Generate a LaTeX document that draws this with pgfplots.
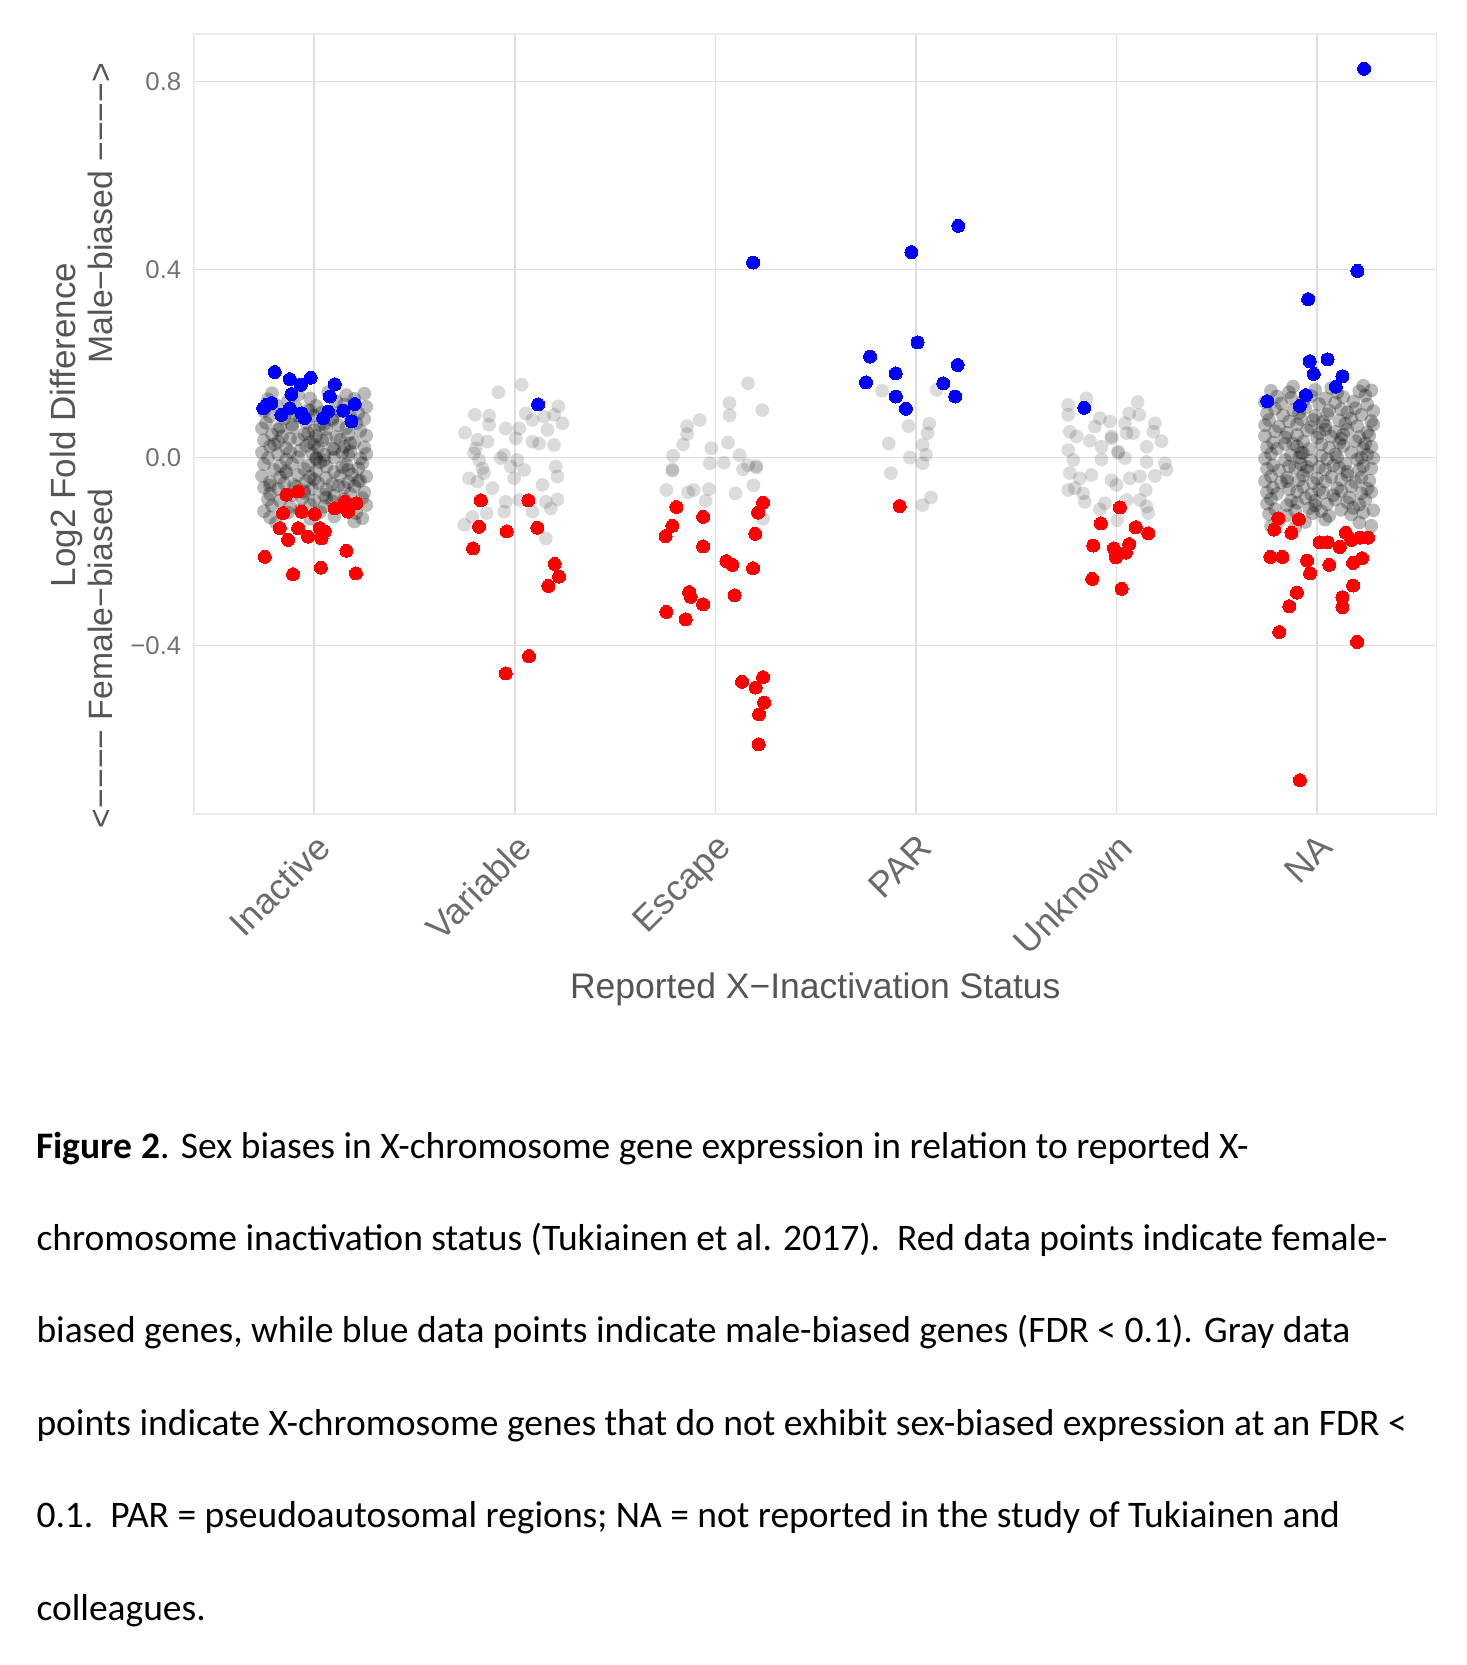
\documentclass[border=0pt]{standalone}
\usepackage{fontspec}
\setmainfont{Carlito}
\newfontfamily\arial{Liberation Sans}
\usepackage{pgfplots}
\pgfplotsset{compat=1.18}
\usepackage{pgfplotstable}
\definecolor{gridc}{HTML}{DEDEDE}
\definecolor{borderc}{HTML}{EBEBEB}
\definecolor{tickc}{HTML}{737373}
\definecolor{xtickc}{HTML}{6B6B6B}
\definecolor{titlec}{HTML}{555555}
\definecolor{mblue}{HTML}{0000FF}
\definecolor{mred}{HTML}{FF0000}

% gray points, sparse categories
\pgfplotstableread[row sep=\\]{
x y\\
2.035 0.155\\ 1.919 0.139\\ 1.801 0.091\\ 1.872 0.089\\ 1.752 0.053\\ 1.872 0.070\\ 1.955 0.062\\ 2.022 0.062\\
2.055 0.094\\ 2.088 0.080\\ 2.146 0.087\\ 2.196 0.091\\ 2.218 0.109\\ 2.238 0.073\\ 2.163 0.059\\ 2.088 0.034\\
2.121 0.030\\ 2.196 0.027\\ 1.814 0.038\\ 1.806 0.020\\ 1.864 0.034\\ 2.005 0.041\\ 1.822 -0.005\\ 1.947 0.006\\
2.013 -0.005\\ 1.980 -0.019\\ 2.047 -0.026\\ 1.839 -0.023\\ 2.204 -0.019\\ 2.213 -0.040\\ 1.772 -0.044\\ 1.814 -0.051\\
1.889 -0.065\\ 1.997 -0.044\\ 2.138 -0.058\\ 1.955 -0.094\\ 2.022 -0.090\\ 2.155 -0.094\\ 2.213 -0.089\\ 2.180 -0.108\\
2.088 -0.115\\ 1.860 -0.118\\ 1.947 -0.115\\ 1.789 -0.126\\ 1.748 -0.143\\ 2.155 -0.172\\ 1.930 -0.001\\ 1.847 -0.033\\
1.797 0.009\\
3.163 0.158\\ 3.071 0.116\\ 3.071 0.090\\ 3.234 0.101\\ 2.922 0.080\\ 2.859 0.067\\ 2.859 0.050\\ 2.839 0.028\\
2.980 0.020\\ 3.063 0.032\\ 2.789 0.004\\ 3.121 0.005\\ 2.786 -0.025\\ 2.972 -0.012\\ 3.042 -0.011\\ 3.138 -0.025\\
3.163 -0.016\\ 3.204 -0.021\\ 3.190 -0.059\\ 2.756 -0.069\\ 2.864 -0.074\\ 2.892 -0.069\\ 2.968 -0.067\\ 3.101 -0.076\\
2.952 -0.092\\ 3.238 -0.130\\ 2.786 -0.028\\ 3.204 -0.018\\
3.831 0.142\\ 4.103 0.144\\ 3.963 0.067\\ 4.066 0.072\\ 4.058 0.052\\ 3.864 0.030\\ 4.033 0.027\\ 4.050 0.006\\
3.970 0.000\\ 4.033 -0.012\\ 3.875 -0.033\\ 4.075 -0.085\\ 4.033 -0.101\\
4.850 0.126\\ 4.759 0.112\\ 4.759 0.091\\ 5.105 0.118\\ 5.063 0.094\\ 5.113 0.091\\ 4.917 0.084\\ 4.967 0.077\\
4.892 0.066\\ 5.042 0.073\\ 5.191 0.073\\ 5.183 0.055\\ 5.224 0.035\\ 4.767 0.055\\ 4.801 0.045\\ 4.867 0.036\\
4.975 0.041\\ 5.050 0.052\\ 5.083 0.052\\ 5.150 0.023\\ 4.759 0.016\\ 4.925 0.023\\ 5.008 0.013\\ 5.042 -0.001\\
4.784 -0.005\\ 4.925 -0.004\\ 5.150 -0.009\\ 5.241 -0.012\\ 5.249 -0.026\\ 5.191 -0.039\\ 5.116 -0.040\\ 5.066 -0.044\\
4.975 -0.048\\ 4.767 -0.033\\ 4.817 -0.044\\ 4.875 -0.037\\ 5.000 -0.058\\ 4.759 -0.069\\ 4.792 -0.065\\ 4.834 -0.076\\
4.842 -0.094\\ 5.146 -0.069\\ 5.050 -0.090\\ 5.116 -0.090\\ 4.942 -0.097\\ 4.917 -0.110\\ 5.150 -0.104\\ 5.158 -0.118\\
5.003 -0.133\\ 4.975 0.045\\ 5.008 0.010\\
}\graysparse

% gray points, dense clouds (Inactive, NA)
\pgfplotstableread[row sep=\\]{
x y\\
0.79 0.137\\ 0.92 0.134\\ 1.07 0.139\\ 1.16 0.133\\ 1.25 0.136\\
0.77 0.124\\ 0.87 0.121\\ 0.98 0.126\\ 1.11 0.120\\ 1.20 0.125\\
0.81 0.112\\ 0.91 0.107\\ 1.01 0.110\\ 1.15 0.113\\ 1.26 0.108\\
0.75 0.099\\ 0.86 0.095\\ 0.97 0.101\\ 1.04 0.096\\ 1.13 0.098\\ 1.22 0.094\\
0.78 0.088\\ 0.85 0.083\\ 0.93 0.086\\ 1.00 0.089\\ 1.09 0.084\\ 1.18 0.087\\ 1.25 0.082\\
0.76 0.074\\ 0.89 0.070\\ 0.96 0.075\\ 1.05 0.071\\ 1.12 0.069\\ 1.21 0.073\\
0.74 0.062\\ 0.82 0.059\\ 0.89 0.064\\ 1.00 0.058\\ 1.06 0.061\\ 1.16 0.063\\ 1.23 0.057\\
0.79 0.049\\ 0.84 0.045\\ 0.95 0.050\\ 1.01 0.046\\ 1.11 0.044\\ 1.17 0.049\\ 1.26 0.047\\
0.75 0.037\\ 0.82 0.034\\ 0.92 0.039\\ 0.98 0.033\\ 1.04 0.036\\ 1.13 0.038\\ 1.20 0.032\\
0.78 0.024\\ 0.86 0.020\\ 0.96 0.025\\ 1.02 0.021\\ 1.09 0.019\\ 1.15 0.023\\ 1.25 0.022\\
0.74 0.011\\ 0.82 0.007\\ 0.88 0.012\\ 0.99 0.008\\ 1.05 0.006\\ 1.14 0.010\\ 1.18 0.013\\ 1.26 0.008\\
0.77 -0.001\\ 0.86 -0.004\\ 0.92 0.001\\ 1.01 -0.003\\ 1.05 -0.005\\ 1.10 0.000\\ 1.23 -0.002\\
0.75 -0.014\\ 0.83 -0.018\\ 0.89 -0.013\\ 0.97 -0.017\\ 1.06 -0.019\\ 1.16 -0.015\\ 1.24 -0.012\\
0.80 -0.026\\ 0.86 -0.029\\ 0.95 -0.024\\ 1.01 -0.028\\ 1.10 -0.030\\ 1.17 -0.026\\ 1.22 -0.023\\
0.74 -0.039\\ 0.83 -0.042\\ 0.92 -0.037\\ 0.98 -0.041\\ 1.06 -0.043\\ 1.13 -0.039\\ 1.19 -0.036\\ 1.26 -0.040\\
0.78 -0.052\\ 0.85 -0.055\\ 0.96 -0.050\\ 1.02 -0.054\\ 1.09 -0.056\\ 1.17 -0.052\\ 1.23 -0.049\\
0.75 -0.064\\ 0.82 -0.067\\ 0.91 -0.062\\ 0.99 -0.066\\ 1.06 -0.068\\ 1.15 -0.064\\ 1.20 -0.061\\
0.78 -0.077\\ 0.89 -0.080\\ 0.95 -0.075\\ 1.05 -0.079\\ 1.10 -0.081\\ 1.18 -0.077\\ 1.25 -0.074\\
0.77 -0.089\\ 0.83 -0.092\\ 0.94 -0.087\\ 1.00 -0.091\\ 1.09 -0.093\\ 1.15 -0.089\\ 1.24 -0.086\\
0.79 -0.102\\ 0.88 -0.105\\ 0.98 -0.100\\ 1.05 -0.104\\ 1.14 -0.106\\ 1.26 -0.101\\
0.75 -0.114\\ 0.87 -0.117\\ 0.93 -0.112\\ 1.03 -0.116\\ 1.21 -0.118\\
0.78 -0.127\\ 0.98 -0.130\\ 1.10 -0.125\\ 1.24 -0.129\\
0.81 -0.139\\ 1.20 -0.136\\
0.83 0.065\\ 0.88 0.040\\ 0.93 0.015\\ 0.97 0.052\\ 1.00 0.028\\ 1.03 -0.010\\ 1.06 0.042\\ 1.10 0.018\\
1.14 -0.020\\ 1.18 0.030\\ 0.86 -0.033\\ 0.90 -0.058\\ 0.95 -0.071\\ 1.00 -0.046\\ 1.06 -0.085\\ 1.12 -0.060\\
1.17 0.005\\ 1.22 -0.050\\ 0.80 0.028\\ 0.78 -0.060\\ 0.91 0.090\\ 0.98 0.100\\ 1.09 0.080\\ 1.15 0.100\\
1.01 0.000\\ 1.03 0.070\\
5.88 0.151\\ 6.07 0.148\\ 6.23 0.153\\
5.77 0.142\\ 5.86 0.139\\ 5.99 0.144\\ 6.10 0.138\\ 6.21 0.141\\ 6.27 0.143\\
5.80 0.130\\ 5.87 0.127\\ 5.97 0.131\\ 6.04 0.126\\ 6.13 0.129\\ 6.24 0.132\\
5.74 0.118\\ 5.82 0.115\\ 5.93 0.120\\ 6.01 0.114\\ 6.09 0.117\\ 6.18 0.119\\ 6.25 0.113\\
5.79 0.104\\ 5.88 0.101\\ 5.94 0.106\\ 6.06 0.100\\ 6.12 0.103\\ 6.19 0.105\\ 6.28 0.099\\
5.75 0.094\\ 5.83 0.090\\ 5.91 0.095\\ 5.99 0.089\\ 6.05 0.092\\ 6.15 0.096\\ 6.22 0.091\\
5.76 0.080\\ 5.86 0.077\\ 5.92 0.082\\ 6.03 0.076\\ 6.11 0.079\\ 6.17 0.083\\ 6.27 0.078\\
5.74 0.069\\ 5.81 0.066\\ 5.90 0.071\\ 5.97 0.065\\ 6.04 0.068\\ 6.14 0.072\\ 6.20 0.067\\ 6.28 0.070\\
5.79 0.056\\ 5.85 0.053\\ 5.95 0.058\\ 6.01 0.052\\ 6.09 0.055\\ 6.15 0.059\\ 6.25 0.054\\
5.74 0.046\\ 5.84 0.043\\ 5.90 0.048\\ 6.00 0.042\\ 6.07 0.045\\ 6.13 0.049\\ 6.21 0.044\\ 6.26 0.047\\
5.78 0.032\\ 5.84 0.029\\ 5.93 0.034\\ 6.02 0.028\\ 6.11 0.031\\ 6.19 0.035\\ 6.24 0.030\\
5.75 0.022\\ 5.80 0.019\\ 5.90 0.024\\ 5.96 0.018\\ 6.06 0.021\\ 6.13 0.025\\ 6.23 0.020\\ 6.27 0.023\\
5.77 0.008\\ 5.87 0.005\\ 5.93 0.010\\ 6.02 0.004\\ 6.09 0.007\\ 6.17 0.011\\ 6.25 0.006\\
5.74 -0.002\\ 5.84 -0.005\\ 5.91 0.000\\ 5.97 -0.006\\ 6.05 -0.003\\ 6.10 0.001\\ 6.20 -0.004\\ 6.28 -0.001\\
5.78 -0.016\\ 5.86 -0.019\\ 5.92 -0.014\\ 6.01 -0.020\\ 6.08 -0.017\\ 6.14 -0.013\\ 6.23 -0.018\\
5.75 -0.024\\ 5.81 -0.027\\ 5.89 -0.022\\ 5.95 -0.028\\ 6.04 -0.025\\ 6.11 -0.021\\ 6.21 -0.026\\ 6.27 -0.023\\
5.77 -0.040\\ 5.85 -0.043\\ 5.93 -0.038\\ 6.00 -0.044\\ 6.07 -0.041\\ 6.15 -0.037\\ 6.22 -0.042\\
5.74 -0.050\\ 5.82 -0.053\\ 5.91 -0.048\\ 5.98 -0.054\\ 6.04 -0.051\\ 6.12 -0.047\\ 6.19 -0.052\\ 6.26 -0.049\\
5.78 -0.064\\ 5.86 -0.067\\ 5.93 -0.062\\ 6.01 -0.068\\ 6.10 -0.065\\ 6.17 -0.061\\ 6.25 -0.066\\
5.75 -0.074\\ 5.80 -0.077\\ 5.90 -0.072\\ 5.97 -0.078\\ 6.03 -0.075\\ 6.12 -0.071\\ 6.22 -0.076\\ 6.27 -0.073\\
5.77 -0.088\\ 5.87 -0.091\\ 5.94 -0.086\\ 5.99 -0.092\\ 6.09 -0.089\\ 6.16 -0.085\\ 6.24 -0.090\\
5.75 -0.098\\ 5.85 -0.101\\ 5.90 -0.096\\ 5.99 -0.102\\ 6.05 -0.099\\ 6.15 -0.095\\ 6.21 -0.100\\
5.79 -0.110\\ 5.89 -0.113\\ 5.96 -0.108\\ 6.02 -0.114\\ 6.12 -0.111\\ 6.18 -0.107\\ 6.28 -0.112\\
5.76 -0.120\\ 5.85 -0.123\\ 5.98 -0.118\\ 6.06 -0.124\\ 6.17 -0.121\\ 6.23 -0.117\\
5.81 -0.134\\ 5.94 -0.137\\ 6.04 -0.132\\ 6.21 -0.138\\
5.77 -0.146\\ 5.89 -0.149\\ 6.27 -0.145\\
5.92 0.010\\ 6.04 0.060\\ 6.15 -0.030\\ 5.85 -0.050\\ 6.22 0.000\\ 5.98 0.080\\ 6.08 -0.080\\ 5.88 0.030\\
6.12 0.040\\ 5.95 -0.020\\
}\graydense

% female-biased (red)
\pgfplotstableread[row sep=\\]{
x y\\
0.862 -0.079\\ 0.920 -0.072\\ 0.845 -0.118\\ 0.937 -0.115\\ 1.003 -0.120\\ 1.103 -0.108\\ 1.153 -0.094\\
1.211 -0.097\\ 1.169 -0.115\\ 0.829 -0.150\\ 0.920 -0.150\\ 0.870 -0.175\\ 0.970 -0.168\\ 1.028 -0.150\\
1.053 -0.157\\ 1.037 -0.172\\ 0.754 -0.211\\ 1.161 -0.198\\ 0.895 -0.248\\ 1.033 -0.234\\ 1.208 -0.246\\
1.831 -0.091\\ 2.068 -0.091\\ 1.822 -0.147\\ 1.960 -0.157\\ 2.113 -0.149\\ 1.792 -0.193\\ 2.199 -0.226\\
2.221 -0.253\\ 2.168 -0.273\\ 2.071 -0.422\\ 1.955 -0.459\\
2.806 -0.105\\ 2.939 -0.126\\ 2.786 -0.145\\ 2.752 -0.167\\ 2.939 -0.189\\ 3.238 -0.096\\ 3.213 -0.117\\
3.199 -0.162\\ 3.055 -0.220\\ 3.085 -0.228\\ 3.188 -0.235\\ 2.869 -0.286\\ 2.877 -0.296\\ 2.939 -0.312\\
3.096 -0.293\\ 2.756 -0.328\\ 2.852 -0.344\\ 3.133 -0.477\\ 3.201 -0.489\\ 3.238 -0.467\\ 3.243 -0.521\\
3.218 -0.546\\ 3.216 -0.610\\
3.919 -0.103\\
5.017 -0.106\\ 4.922 -0.140\\ 5.096 -0.148\\ 5.158 -0.161\\ 4.884 -0.187\\ 4.987 -0.193\\ 5.063 -0.184\\
4.997 -0.212\\ 5.047 -0.202\\ 4.879 -0.258\\ 5.025 -0.279\\
5.806 -0.129\\ 5.909 -0.131\\ 5.786 -0.153\\ 5.872 -0.160\\ 6.013 -0.180\\ 6.052 -0.180\\ 6.113 -0.190\\
6.143 -0.160\\ 6.171 -0.175\\ 6.213 -0.170\\ 6.254 -0.170\\ 5.767 -0.211\\ 5.827 -0.211\\ 5.950 -0.219\\
5.965 -0.246\\ 6.061 -0.228\\ 6.179 -0.224\\ 6.224 -0.214\\ 6.179 -0.272\\ 5.899 -0.287\\ 5.861 -0.316\\
6.126 -0.297\\ 6.126 -0.318\\ 5.811 -0.371\\ 6.199 -0.392\\ 5.914 -0.686\\
}\redpts

% male-biased (blue)
\pgfplotstableread[row sep=\\]{
x y\\
0.804 0.182\\ 0.879 0.167\\ 0.983 0.170\\ 0.934 0.155\\ 1.103 0.156\\ 0.887 0.135\\ 1.078 0.130\\
0.762 0.112\\ 0.787 0.116\\ 0.746 0.105\\ 0.837 0.091\\ 0.879 0.105\\ 0.937 0.094\\ 0.953 0.084\\
1.045 0.084\\ 1.070 0.098\\ 1.145 0.100\\ 1.203 0.114\\ 1.186 0.077\\
2.116 0.113\\
3.188 0.415\\
4.211 0.493\\ 3.977 0.437\\ 4.008 0.245\\ 3.771 0.215\\ 4.208 0.197\\ 3.899 0.179\\ 3.751 0.160\\
4.136 0.158\\ 3.900 0.130\\ 4.196 0.130\\ 3.950 0.104\\
4.839 0.106\\
6.234 0.827\\ 6.201 0.397\\ 5.955 0.337\\ 5.963 0.205\\ 6.052 0.209\\ 5.983 0.178\\ 6.126 0.173\\
6.093 0.151\\ 5.944 0.133\\ 5.751 0.120\\ 5.914 0.110\\
}\bluepts

\begin{document}
\begin{tikzpicture}
\path[use as bounding box] (0,0) rectangle (586.4pt,-666pt);
\begin{axis}[
  at={(77.6pt,-325.6pt)}, anchor=south west,
  scale only axis, width=497pt, height=312pt,
  xmin=0.401, xmax=6.595, ymin=-0.758, ymax=0.901,
  xtick={1,2,3,4,5,6},
  xticklabels={Inactive,Variable,Escape,PAR,Unknown,NA},
  ytick={-0.4,0,0.4,0.8},
  yticklabels={−0.4,0.0,0.4,0.8},
  major tick length=0pt,
  grid=major,
  major grid style={draw=gridc, line width=0.6pt},
  axis line style={draw=borderc, line width=0.6pt},
  xticklabel style={font=\arial\fontsize{14.4}{14.4}\selectfont, text=xtickc, rotate=45, anchor=north east, inner sep=0pt},
  xticklabel shift=7pt,
  yticklabel style={font=\arial\fontsize{10.3}{10.3}\selectfont, text=tickc, anchor=east, inner sep=0pt},
  yticklabel shift=4.9pt,
]
\addplot[only marks, mark=*, mark size=2.75pt, mark options={line width=0pt, draw opacity=0, fill=black, fill opacity=0.14}] table[x=x, y=y] {\graysparse};
\addplot[only marks, mark=*, mark size=2.75pt, mark options={line width=0pt, draw opacity=0, fill=black, fill opacity=0.27}] table[x=x, y=y] {\graydense};
\addplot[only marks, color=mred, mark=*, mark size=2.6pt, mark options={line width=0pt, draw=mred, fill=mred}] table[x=x, y=y] {\redpts};
\addplot[only marks, color=mblue, mark=*, mark size=2.6pt, mark options={line width=0pt, draw=mblue, fill=mblue}] table[x=x, y=y] {\bluepts};
\end{axis}
% axis titles
\node[anchor=base, inner sep=0pt, text=titlec, font=\arial\fontsize{14.2}{14.2}\selectfont] at (326.1pt,-399.2pt) {Reported X−Inactivation Status};
\node[rotate=90, anchor=base, inner sep=0pt, text=titlec, font=\arial\fontsize{14}{14}\selectfont] at (30pt,-170pt) {Log2 Fold Difference};
\node[rotate=90, anchor=base west, inner sep=0pt, text=titlec, font=\arial\fontsize{13.5}{13.5}\selectfont] at (44.8pt,-331.4pt) {<−−−− Female−biased};
\node[rotate=90, anchor=base east, inner sep=0pt, text=titlec, font=\arial\fontsize{13.5}{13.5}\selectfont] at (44.8pt,-25pt) {Male−biased −−−−>};
% caption
\begin{scope}[every node/.style={anchor=base west, inner sep=0pt, font=\fontsize{15}{18}\selectfont}]
\node at (14.4pt,-463.2pt) {\textbf{Figure 2}. Sex biases in X-chromosome gene expression in relation to reported X-};
\node at (14.4pt,-500.16pt) {chromosome inactivation status (Tukiainen et al. 2017).\ \ Red data points indicate female-};
\node at (14.4pt,-537.12pt) {biased genes, while blue data points indicate male-biased genes (FDR < 0.1). Gray data};
\node at (14.4pt,-574.08pt) {points indicate X-chromosome genes that do not exhibit sex-biased expression at an FDR <};
\node at (14.4pt,-611.04pt) {0.1.\ \ PAR = pseudoautosomal regions; NA = not reported in the study of Tukiainen and};
\node at (14.4pt,-648pt) {colleagues.};
\end{scope}
\end{tikzpicture}
\end{document}
